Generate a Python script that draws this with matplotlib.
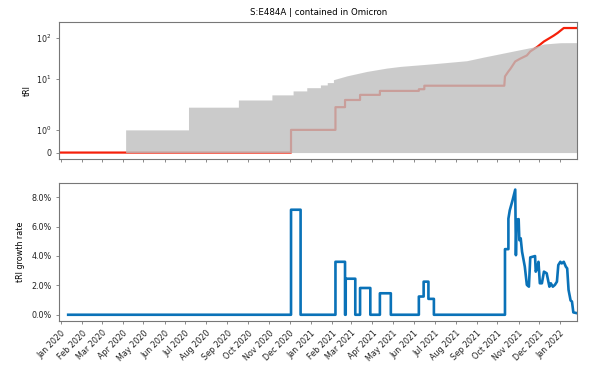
import numpy as np
import pandas as pd
import matplotlib
matplotlib.use("Agg")
import matplotlib.pyplot as plt
import matplotlib.dates as mdates
from matplotlib.ticker import PercentFormatter

# =============================
# data

# upper envelope (gray area)
env_dates = ["2019-12-30", "2020-04-05", "2020-04-05", "2020-07-06", "2020-07-06",
             "2020-09-17", "2020-09-17", "2020-11-05", "2020-11-05", "2020-12-06",
             "2020-12-06", "2020-12-26", "2020-12-26", "2021-01-15", "2021-01-15",
             "2021-01-25", "2021-01-25", "2021-02-03", "2021-02-03", "2021-02-23",
             "2021-03-24", "2021-04-22", "2021-05-12", "2021-06-29", "2021-08-17",
             "2021-09-11", "2021-10-05", "2021-10-29", "2021-11-23", "2021-12-08",
             "2022-01-01", "2022-01-26"]
env_values = [0, 0, 1, 1, 2,
              2, 3, 3, 4, 4,
              5, 5, 6, 6, 7,
              7, 8, 8, 9.4, 11.7,
              15, 18.1, 19.9, 23.1, 27.4,
              33.7, 40.6, 49, 59.4, 70.3,
              75.6, 76]

# tRI of the mutation (red line)
tri_dates = ["2019-12-30", "2020-12-03", "2020-12-03", "2021-02-06", "2021-02-06",
             "2021-02-20", "2021-02-20", "2021-03-14", "2021-03-14", "2021-04-12",
             "2021-04-12", "2021-06-08", "2021-06-08", "2021-06-16", "2021-06-16",
             "2021-10-11", "2021-10-12", "2021-10-17", "2021-10-20", "2021-10-27",
             "2021-11-03", "2021-11-13", "2021-11-18", "2021-11-28", "2021-12-08",
             "2021-12-22", "2021-12-28", "2022-01-06", "2022-01-26"]
tri_values = [0, 0, 1, 1, 2,
              2, 3, 3, 4, 4,
              5, 5, 5.5, 5.5, 6.7,
              6.7, 11.3, 15, 17.4, 26.3,
              30.6, 36.9, 46.2, 59.4, 81,
              112, 131, 173, 173]

# tRI growth rate in percent (blue line)
gr_dates = ["2020-01-12", "2020-12-03", "2020-12-03", "2020-12-17", "2020-12-17",
            "2021-02-06", "2021-02-06", "2021-02-20", "2021-02-20", "2021-02-21",
            "2021-02-21", "2021-03-07", "2021-03-07", "2021-03-14", "2021-03-14",
            "2021-03-29", "2021-03-29", "2021-04-12", "2021-04-12", "2021-04-28",
            "2021-04-28", "2021-06-08", "2021-06-08", "2021-06-15", "2021-06-15",
            "2021-06-22", "2021-06-22", "2021-06-30", "2021-06-30", "2021-10-12",
            "2021-10-12", "2021-10-17", "2021-10-17", "2021-10-19", "2021-10-23",
            "2021-10-27", "2021-10-28", "2021-10-29", "2021-11-01", "2021-11-02",
            "2021-11-04", "2021-11-06", "2021-11-10", "2021-11-13", "2021-11-16",
            "2021-11-18", "2021-11-25", "2021-11-26", "2021-11-28", "2021-11-30",
            "2021-12-02", "2021-12-05", "2021-12-08", "2021-12-12", "2021-12-14",
            "2021-12-16", "2021-12-18", "2021-12-21", "2021-12-24", "2021-12-27",
            "2021-12-29", "2022-01-01", "2022-01-03", "2022-01-06", "2022-01-09",
            "2022-01-11", "2022-01-13", "2022-01-16", "2022-01-18", "2022-01-20",
            "2022-01-26"]
gr_values = [0, 0, 7.14, 7.14, 0,
             0, 3.6, 3.6, 0, 0,
             2.45, 2.45, 0, 0, 1.82,
             1.82, 0, 0, 1.46, 1.46,
             0, 0, 1.24, 1.24, 2.25,
             2.25, 1.08, 1.08, 0, 0,
             4.46, 4.46, 6.53, 7.1, 7.77,
             8.51, 4.05, 6.47, 6.5, 5.07,
             5.2, 4.28, 3.27, 2.03, 1.91,
             3.9, 3.99, 2.93, 3.15, 3.6,
             2.14, 2.14, 2.93, 2.82, 2.36,
             1.91, 2.14, 1.91, 2.03, 2.25,
             3.38, 3.6, 3.49, 3.6, 3.27,
             3.15, 1.69, 0.97, 0.9, 0.16,
             0.1]

title = "S:E484A | contained in Omicron"

# =============================

env_dates = pd.to_datetime(env_dates)
tri_dates = pd.to_datetime(tri_dates)
gr_dates = pd.to_datetime(gr_dates)

plt.rcParams['axes.edgecolor'] = '#777777'
plt.rcParams['xtick.color'] = '#777777'
plt.rcParams['ytick.color'] = '#777777'
plt.rcParams['xtick.labelcolor'] = '#222222'
plt.rcParams['ytick.labelcolor'] = '#222222'

FS = 5.8

fig = plt.figure(figsize=(5.99, 3.79), dpi=100)
ax1 = fig.add_axes([0.099, 0.581, 0.865, 0.3615])
ax2 = fig.add_axes([0.099, 0.153, 0.865, 0.3633], sharex=ax1)

# top: tRI, gray area drawn over the line
ax1.plot(tri_dates, tri_values, color='#f5200a', linewidth=1.6, zorder=1)
ax1.fill_between(env_dates, 0, env_values, color='#bfbfbf', alpha=0.8, linewidth=0, zorder=2)
ax1.set_yscale('symlog', linthresh=2)
ax1.set_yticks([0, 1, 10, 100])
ax1.set_yticklabels(['0', '$10^0$', '$10^1$', '$10^2$'])
ax1.minorticks_off()
ax1.set_ylabel('tRI', fontsize=FS)
ax1.yaxis.set_label_coords(-0.053, 0.5)
ax1.set_title(title, fontsize=6.2, pad=5)
ax1.tick_params(labelsize=FS, length=2, width=0.6)
ax1.tick_params(axis='x', labelbottom=False)
ax1.set_xlim(env_dates[0], env_dates[-1])

# bottom: growth rate
ax2.plot(gr_dates, gr_values, color='#0a72b8', linewidth=1.9)
ax2.yaxis.set_major_formatter(PercentFormatter(100, decimals=1))
ax2.set_yticks([0, 2, 4, 6, 8])
ax2.set_ylabel('tRI growth rate', fontsize=FS)
ax2.yaxis.set_label_coords(-0.066, 0.5)
ax2.tick_params(labelsize=FS, length=2, width=0.6)
ax2.xaxis.set_major_locator(mdates.MonthLocator())
ax2.xaxis.set_major_formatter(mdates.DateFormatter('%b %Y'))
plt.setp(ax2.get_xticklabels(), rotation=45, ha='right', rotation_mode='anchor')

for ax in (ax1, ax2):
    for s in ax.spines.values():
        s.set_linewidth(0.8)

plt.savefig('out.png', dpi=100)
plt.close()
